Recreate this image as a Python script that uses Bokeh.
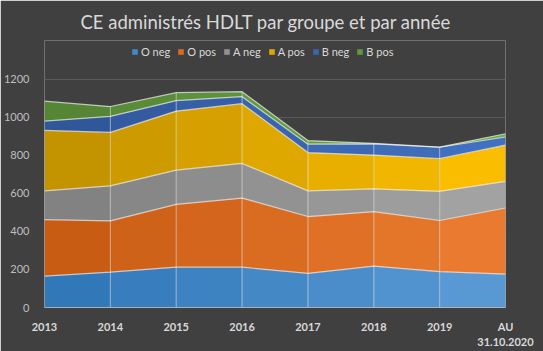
from bokeh.plotting import figure
from bokeh.models import Legend, LegendItem, FixedTicker, Range1d
from bokeh.embed import file_html
from bokeh.resources import INLINE

categories = ["2013", "2014", "2015", "2016", "2017", "2018", "2019", "AU\n31.10.2020"]
o_neg = [165, 186, 212, 212, 179, 217, 188, 175]
o_pos = [297, 269, 330, 363, 299, 287, 269, 348]
a_neg = [151, 184, 180, 182, 135, 119, 153, 140]
a_pos = [318, 281, 310, 314, 201, 178, 173, 190]
b_neg = [48, 84, 55, 37, 44, 59, 59, 43]
b_pos = [105, 52, 42, 26, 19, 2, 1, 17]
series_names = ["O neg", "O pos", "A neg", "A pos", "B neg", "B pos"]
series_values = [o_neg, o_pos, a_neg, a_pos, b_neg, b_pos]
y_ticks = [0, 200, 400, 600, 800, 1000, 1200]

# gradient ends (left dark -> right light)
dark = ["#2e75b6", "#c55a11", "#7f7f7f", "#bf9000", "#2f5597", "#548235"]
light = ["#5b9bd5", "#ed7d31", "#a5a5a5", "#ffc000", "#4472c4", "#70ad47"]


def mix(c1, c2, t):
    a = [int(c1[i:i + 2], 16) for i in (1, 3, 5)]
    b = [int(c2[i:i + 2], 16) for i in (1, 3, 5)]
    return "#" + "".join("%02x" % round(a[j] + (b[j] - a[j]) * t) for j in range(3))


BG = "#404040"
TXT = "#d9d9d9"
xs = list(range(len(categories)))

# frame spans from y=40 to y=309 px; headroom above 1200 holds the legend
p = figure(width=543, height=351, output_backend="svg", toolbar_location=None,
           x_range=Range1d(0, len(categories) - 1), y_range=Range1d(0, 1403),
           background_fill_color=BG, border_fill_color=BG, outline_line_color=None,
           min_border_left=42, min_border_right=38, min_border_bottom=42, min_border_top=40)

p.title.text = "CE administrés HDLT par groupe et par année"
p.title.align = "left"
p.title.offset = 36
p.title.text_font = "Lato"
p.title.text_font_size = "18.5px"
p.title.text_font_style = "normal"
p.title.text_color = TXT
p.title.standoff = 16

p.xgrid.grid_line_color = None
p.ygrid.grid_line_color = "#5a5a5a"
p.ygrid.ticker = FixedTicker(ticks=y_ticks)

bottoms = [0] * len(xs)
legend_items = []
tops_all = []
for k, vals in enumerate(series_values):
    tops = [bottoms[i] + vals[i] for i in range(len(xs))]
    rends = []
    nseg = len(xs) - 1
    for i in range(nseg):
        c = mix(dark[k], light[k], (i + 0.5) / nseg)
        r = p.varea(x=xs[i:i + 2], y1=bottoms[i:i + 2], y2=tops[i:i + 2],
                    fill_color=c)
        rends.append(r)
    tops_all.append(tops)
    legend_items.append(LegendItem(label=series_names[k], renderers=[rends[3]]))
    bottoms = tops

for tops in tops_all:
    p.line(xs, tops, line_color="#ffffff", line_alpha=0.65, line_width=1.2)

p.segment(x0=xs, y0=[0] * len(xs), x1=xs, y1=tops_all[-1],
          line_color="#ffffff", line_alpha=0.5, line_width=1)

p.xaxis.ticker = FixedTicker(ticks=xs)
p.xaxis.major_label_overrides = {i: c for i, c in enumerate(categories)}
p.xaxis.major_label_text_font = "Lato"
p.xaxis.major_label_text_font_style = "bold"
p.xaxis.major_label_text_font_size = "11px"
p.xaxis.major_label_text_color = TXT
p.xaxis.axis_line_color = "#d9d9d9"
p.xaxis.axis_line_alpha = 0.6
p.xaxis.major_tick_line_color = None
p.xaxis.minor_tick_line_color = None
p.xaxis.major_label_standoff = 6

p.yaxis.ticker = FixedTicker(ticks=y_ticks)
p.yaxis.major_label_text_font = "Lato"
p.yaxis.major_label_text_font_size = "11px"
p.yaxis.major_label_text_color = "#bfbfbf"
p.yaxis.axis_line_color = None
p.yaxis.major_tick_line_color = None
p.yaxis.minor_tick_line_color = None
p.yaxis.major_label_standoff = 9

legend = Legend(items=legend_items, orientation="horizontal", location=(87, 249),
                background_fill_alpha=0.0, border_line_color=None,
                label_text_font="Lato", label_text_font_size="11px", label_text_color=TXT,
                glyph_width=7, glyph_height=7, label_standoff=3, spacing=7,
                padding=2, margin=0, label_height=12)
p.add_layout(legend)

open("out.html", "w").write(file_html(p, INLINE))
